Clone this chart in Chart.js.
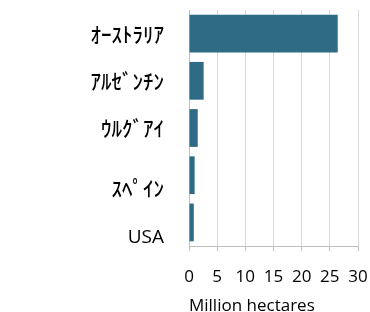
<!DOCTYPE html>
<html><head><meta charset="utf-8">
<script src="https://cdn.jsdelivr.net/npm/chart.js@4"></script>
<style>html,body{margin:0;padding:0;background:#fff}#wrap{width:370px;height:312px;position:relative}</style>
</head><body><div id="wrap"><canvas id="c"></canvas></div>
<script>
const categories = ['ｵｰｽﾄﾗﾘｱ', 'ｱﾙｾﾞﾝﾁﾝ', 'ｳﾙｸﾞｱｲ', 'ｽﾍﾟｲﾝ', 'USA'];
const hectares = [26.4, 2.6, 1.55, 1.0, 0.85];
const xTickValues = [0, 5, 10, 15, 20, 25, 30];
const axisTitle = 'Million hectares';

// labels drawn a little lower than their bars in the original
const loweredLabels = [3, 4];
const latinLabels = [4];

new Chart(document.getElementById('c'), {
  type: 'bar',
  data: {
    labels: categories,
    datasets: [{
      data: hectares,
      backgroundColor: '#2f6b85',
      borderWidth: 0,
      barPercentage: 0.8,
      categoryPercentage: 1
    }]
  },
  options: {
    indexAxis: 'y',
    responsive: true,
    maintainAspectRatio: false,
    animation: false,
    layout: { padding: { top: 10, right: 12, left: 0, bottom: 0 } },
    plugins: { legend: { display: false }, tooltip: { enabled: false } },
    scales: {
      x: {
        type: 'linear',
        min: xTickValues[0],
        max: xTickValues[xTickValues.length - 1],
        afterBuildTicks: (s) => { s.ticks = xTickValues.map(v => ({ value: v })); },
        afterFit: (s) => { s.height = 66; s.paddingLeft = 0; s.paddingRight = 0; },
        ticks: {
          color: '#000',
          padding: 16,
          autoSkip: false,
          font: { family: 'Open Sans', size: 17 },
          maxRotation: 0
        },
        grid: { color: '#d9d9d9', tickLength: 5, tickColor: '#bfbfbf' },
        border: { color: '#bfbfbf' },
        title: {
          display: true,
          text: axisTitle,
          align: 'start',
          color: '#000',
          font: { family: 'Open Sans', size: 17, lineHeight: 0.7 },
          padding: { top: 0, bottom: 0 }
        }
      },
      y: {
        afterFit: (s) => { s.width = 189; s.paddingTop = 0; s.paddingBottom = 0; },
        ticks: {
          color: '#000',
          padding: 25,
          autoSkip: false,
          font: (ctx) => latinLabels.includes(ctx.index)
            ? { family: 'Open Sans', size: 19, weight: 'normal', lineHeight: 1.55 }
            : { family: 'Noto Sans CJK JP', size: 21, weight: '500', lineHeight: 1.25 },
          callback: function (v, i) {
            const lab = categories[i];
            return loweredLabels.includes(i) ? ['', lab] : lab;
          }
        },
        grid: { display: false, drawTicks: false },
        border: { display: true, color: '#bfbfbf' }
      }
    }
  }
});
</script>
</body></html>
